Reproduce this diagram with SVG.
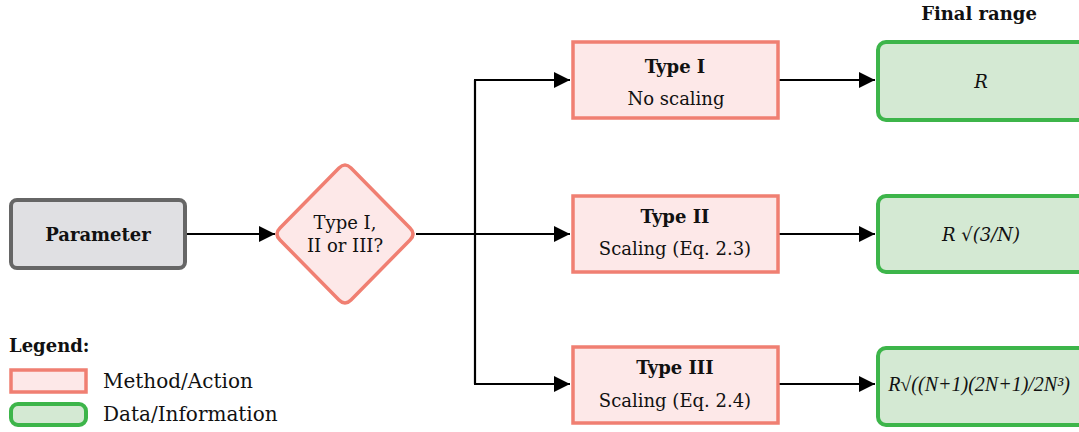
<svg xmlns="http://www.w3.org/2000/svg" width="1079" height="432" viewBox="0 0 1079 432">
  <defs>
    <marker id="arrow" viewBox="0 0 10 10" refX="10" refY="5" markerWidth="22" markerHeight="16" markerUnits="userSpaceOnUse" orient="auto">
      <path d="M0,0 L10,5 L0,10 Z" fill="#000"/>
    </marker>
    <style>
      text { font-family: "DejaVu Serif", "Liberation Serif", serif; fill: #111; }
      .lbl { font-size: 18px; text-anchor: middle; dominant-baseline: central; }
      .bold { font-weight: bold; }
      .it { font-style: italic; }
      .formula { font-family: "Liberation Serif", serif; font-size: 20px; }
      .key { font-size: 20px; }
      .method { fill: #fde8e8; stroke: #f07f72; stroke-width: 3.5; }
      .data { fill: #d4e9d3; stroke: #3db54a; stroke-width: 4; }
      .input { fill: #e0e0e3; stroke: #666; stroke-width: 4; }
      .edge { fill: none; stroke: #000; stroke-width: 2.2; }
    </style>
  </defs>

  <rect width="1079" height="432" fill="#fff"/>

  <!-- connectors -->
  <g id="connectors">
    <line class="edge" x1="186" y1="234" x2="275" y2="234" marker-end="url(#arrow)"/>
    <polyline class="edge" points="416,234 475,234"/>
    <polyline class="edge" points="475,384 475,80"/>
    <line class="edge" x1="474" y1="80" x2="570" y2="80" marker-end="url(#arrow)"/>
    <line class="edge" x1="475" y1="234" x2="570" y2="234" marker-end="url(#arrow)"/>
    <line class="edge" x1="474" y1="384" x2="570" y2="384" marker-end="url(#arrow)"/>
    <line class="edge" x1="779" y1="80" x2="875" y2="80" marker-end="url(#arrow)"/>
    <line class="edge" x1="779" y1="234" x2="875" y2="234" marker-end="url(#arrow)"/>
    <line class="edge" x1="779" y1="384" x2="875" y2="384" marker-end="url(#arrow)"/>
  </g>

  <!-- input -->
  <g id="parameter">
    <rect class="input" x="11" y="200" width="174" height="68" rx="6"/>
    <text class="lbl bold" x="98" y="234">Parameter</text>
  </g>

  <!-- decision -->
  <g id="decision">
    <path class="method" d="M339,168 Q345,162 351,168 L410,228 Q416,234 410,240 L351,300 Q345,306 339,300 L280,240 Q274,234 280,228 Z"/>
    <text class="lbl" x="345" y="222">Type I,</text>
    <text class="lbl" x="345" y="245">II or III?</text>
  </g>

  <!-- methods -->
  <g id="type1">
    <rect class="method" x="573" y="42" width="205" height="76"/>
    <text class="lbl bold" x="675" y="66">Type I</text>
    <text class="lbl" x="676" y="98">No scaling</text>
  </g>
  <g id="type2">
    <rect class="method" x="573" y="196" width="205" height="76"/>
    <text class="lbl bold" x="675" y="216">Type II</text>
    <text class="lbl" x="675" y="248">Scaling (Eq. 2.3)</text>
  </g>
  <g id="type3">
    <rect class="method" x="573" y="347" width="205" height="76"/>
    <text class="lbl bold" x="675" y="367">Type III</text>
    <text class="lbl" x="675" y="400">Scaling (Eq. 2.4)</text>
  </g>

  <!-- results -->
  <text class="lbl bold" x="979" y="13">Final range</text>
  <g id="range1">
    <rect class="data" x="878" y="42" width="212" height="78" rx="8"/>
    <text class="lbl it" x="981" y="81">R</text>
  </g>
  <g id="range2">
    <rect class="data" x="878" y="196" width="212" height="76" rx="8"/>
    <text class="lbl it" x="981" y="234">R √(3/N)</text>
  </g>
  <g id="range3">
    <rect class="data" x="878" y="348" width="212" height="77" rx="8"/>
    <text class="lbl it formula" x="979" y="384">R√((N+1)(2N+1)/2N³)</text>
  </g>

  <!-- legend -->
  <g id="legend">
    <text class="bold" x="9" y="352" font-size="18">Legend:</text>
    <rect class="method" x="11" y="370" width="75" height="22"/>
    <text class="key" x="103" y="388">Method/Action</text>
    <rect class="data" x="11" y="404" width="75" height="21" rx="7"/>
    <text class="key" x="103" y="421">Data/Information</text>
  </g>
</svg>
